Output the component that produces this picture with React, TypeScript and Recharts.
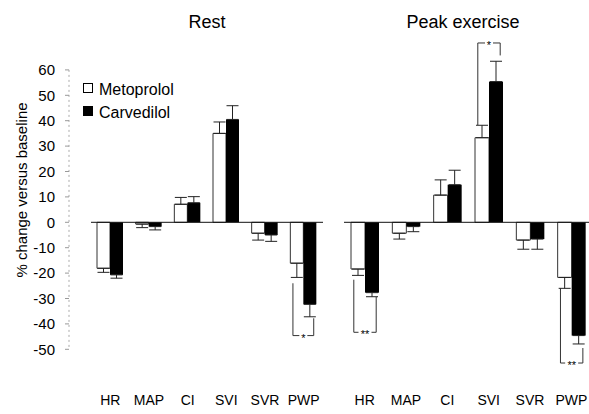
import { BarChart, Bar, XAxis, YAxis, ErrorBar, ReferenceLine } from "recharts";

const categories = ["HR", "MAP", "CI", "SVI", "SVR", "PWP"];
const yTicks = [-50, -40, -30, -20, -10, 0, 10, 20, 30, 40, 50, 60];

// Rest
const restMet = [-18.1, -0.7, 7.1, 35.0, -4.3, -16.1];
const restMetErr = [1.6, 1.4, 2.7, 4.5, 2.7, 5.6];
const restCarv = [-20.7, -1.7, 7.7, 40.5, -5.0, -32.3];
const restCarvErr = [1.3, 1.3, 2.4, 5.4, 2.5, 4.9];

// Peak exercise
const peakMet = [-18.4, -4.3, 10.7, 33.3, -7.0, -21.7];
const peakMetErr = [2.5, 2.3, 6.0, 4.9, 3.6, 4.3];
const peakCarv = [-27.7, -1.7, 14.8, 55.4, -6.6, -44.6];
const peakCarvErr = [1.6, 2.0, 5.7, 8.0, 4.0, 3.3];

type Bracket = { cat: string; metEnd: number; carvEnd: number; level: number; mark: string };

const restBrackets: Bracket[] = [{ cat: "PWP", metEnd: -24.0, carvEnd: -37.8, level: -44.6, mark: "*" }];
const peakBrackets: Bracket[] = [
  { cat: "HR", metEnd: -22.6, carvEnd: -29.4, level: -43.3, mark: "**" },
  { cat: "SVI", metEnd: 38.3, carvEnd: 65.7, level: 70.6, mark: "*" },
  { cat: "PWP", metEnd: -26.0, carvEnd: -49.5, level: -55.4, mark: "**" },
];

const series = [
  { key: "met", name: "Metoprolol", fill: "#fff" },
  { key: "carv", name: "Carvedilol", fill: "#000" },
];

const FONT = "'Liberation Sans', Arial, sans-serif";
const Y_DOMAIN: [number, number] = [-60, 75];

function buildRows(met: number[], metErr: number[], carv: number[], carvErr: number[], brackets: Bracket[]) {
  return categories.map((cat, i) => ({
    cat,
    met: met[i],
    metErr: met[i] < 0 ? [metErr[i], 0] : [0, metErr[i]],
    carv: carv[i],
    carvErr: carv[i] < 0 ? [carvErr[i], 0] : [0, carvErr[i]],
    bracket: brackets.find((b) => b.cat === cat),
  }));
}

const restRows = buildRows(restMet, restMetErr, restCarv, restCarvErr, restBrackets);
const peakRows = buildRows(peakMet, peakMetErr, peakCarv, peakCarvErr, peakBrackets);

// carvedilol bar + significance bracket (pixel scale taken from the bar itself)
function CarvShape(props: any) {
  const { x, y, width, height, payload, fill } = props;
  const v = payload.carv;
  const top = height < 0 ? y + height : y;
  const rect = <rect x={x} y={top} width={width} height={Math.abs(height)} fill={fill} />;
  const b: Bracket | undefined = payload.bracket;
  if (!b || !v) return rect;
  const zero = height * v >= 0 ? y + height : y;
  const k = Math.abs(height / v);
  const py = (u: number) => zero - u * k;
  const xl = x - width * 0.8;
  const xr = x + width * 0.8;
  const cx = (xl + xr) / 2;
  const yb = py(b.level);
  const gap = b.mark.length * 5 + 3;
  return (
    <g>
      {rect}
      <path
        d={`M${xl},${py(b.metEnd)}V${yb}H${cx - gap / 2}M${cx + gap / 2},${yb}H${xr}V${py(b.carvEnd)}`}
        fill="none"
        stroke="#333"
        strokeWidth={1}
      />
      <text x={cx} y={yb + 6} textAnchor="middle" fontSize={11} fontFamily={FONT} fill="#000">
        {b.mark}
      </text>
    </g>
  );
}

function Panel({ rows, left, width, barSize, margin }: any) {
  return (
    <div style={{ position: "absolute", left, top: 0 }}>
      <BarChart width={width} height={414} data={rows} margin={margin} barGap={0} barSize={barSize}>
        <XAxis
          dataKey="cat"
          height={30}
          axisLine={false}
          tickLine={false}
          tickSize={6}
          tickMargin={14}
          interval={0}
          tick={{ fontSize: 14, fill: "#000", fontFamily: FONT }}
        />
        <YAxis hide domain={Y_DOMAIN} allowDataOverflow />
        <ReferenceLine y={0} stroke="#111" strokeWidth={1} />
        <Bar dataKey="met" name="Metoprolol" fill="#fff" stroke="#333" strokeWidth={1} isAnimationActive={false}>
          <ErrorBar dataKey="metErr" width={6} stroke="#222" strokeWidth={1} isAnimationActive={false} />
        </Bar>
        <Bar dataKey="carv" name="Carvedilol" fill="#000" shape={CarvShape} isAnimationActive={false}>
          <ErrorBar dataKey="carvErr" width={6} stroke="#222" strokeWidth={1} isAnimationActive={false} />
        </Bar>
      </BarChart>
    </div>
  );
}

export default function App() {
  return (
    <div
      style={{
        position: "absolute",
        left: 0,
        top: 0,
        width: 589,
        height: 414,
        overflow: "hidden",
        background: "#fff",
        fontFamily: FONT,
      }}
    >
      <svg width={589} height={414} style={{ position: "absolute", left: 0, top: 0 }} fontFamily={FONT}>
        <text x={207} y={28} textAnchor="middle" fontSize={18} fill="#000">
          Rest
        </text>
        <text x={463} y={28} textAnchor="middle" fontSize={18} fill="#000">
          Peak exercise
        </text>
        <text transform="translate(27,190) rotate(-90)" textAnchor="middle" fontSize={15} fill="#000">
          % change versus baseline
        </text>
        {series.map((s, i) => (
          <g key={s.key}>
            <rect x={83.5} y={83.5 + i * 23} width={9} height={9} fill={s.fill} stroke="#000" />
            <text x={99} y={94.5 + i * 23} fontSize={16} fill="#000">
              {s.name}
            </text>
          </g>
        ))}
      </svg>

      {/* shared y axis, same pixel scale as the panels */}
      <div style={{ position: "absolute", left: 0, top: 0 }}>
        <BarChart width={85} height={414} data={restRows} margin={{ top: 69.9, bottom: 64.7, left: 19, right: 5 }}>
          <XAxis dataKey="cat" hide />
          <YAxis
            width={50}
            domain={[-50, 60]}
            allowDataOverflow
            ticks={yTicks}
            interval={0}
            tickSize={4}
            tickMargin={10}
            axisLine={{ stroke: "#aaa", strokeDasharray: "2 3" }}
            tickLine={{ stroke: "#999" }}
            tick={{ fontSize: 15, fill: "#000", fontFamily: FONT }}
          />
        </BarChart>
      </div>

      <Panel rows={restRows} left={85} width={245} barSize={13} margin={{ top: 31.8, bottom: 9.3, left: 6, right: 7 }} />
      <Panel rows={peakRows} left={340} width={256} barSize={14} margin={{ top: 31.8, bottom: 9.3, left: 4, right: 4 }} />
    </div>
  );
}
